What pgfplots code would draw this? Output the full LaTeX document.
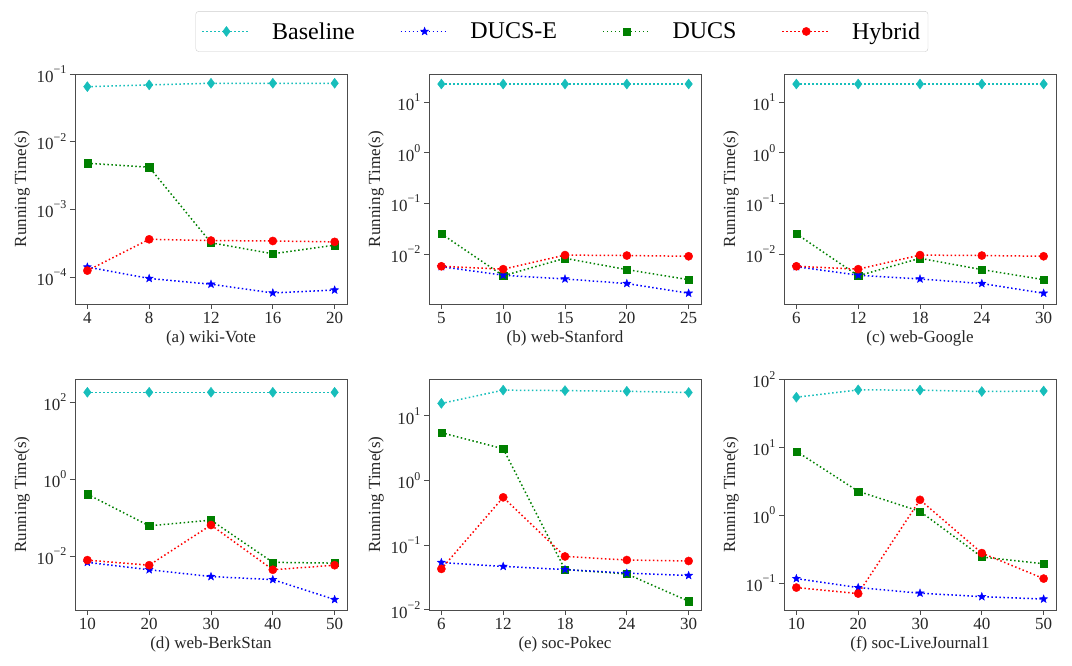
\documentclass[border=0pt]{standalone}
\usepackage{pgfplots}
\pgfplotsset{compat=1.18}
\usepackage{fontspec}
\setmainfont{Liberation Serif}
\definecolor{cbase}{RGB}{23,190,187}
\definecolor{cducse}{RGB}{0,0,255}
\definecolor{cducs}{RGB}{0,128,0}
\definecolor{chyb}{RGB}{255,0,0}
\newcommand{\tp}[1]{10\raisebox{0.52em}{\fontsize{12}{12}\selectfont #1}}
\pgfdeclareplotmark{fstar}{%
  \pgfpathmoveto{\pgfqpointpolar{90}{\pgfplotmarksize}}%
  \pgfpathlineto{\pgfqpointpolar{126}{0.42\pgfplotmarksize}}%
  \pgfpathlineto{\pgfqpointpolar{162}{\pgfplotmarksize}}%
  \pgfpathlineto{\pgfqpointpolar{198}{0.42\pgfplotmarksize}}%
  \pgfpathlineto{\pgfqpointpolar{234}{\pgfplotmarksize}}%
  \pgfpathlineto{\pgfqpointpolar{270}{0.42\pgfplotmarksize}}%
  \pgfpathlineto{\pgfqpointpolar{306}{\pgfplotmarksize}}%
  \pgfpathlineto{\pgfqpointpolar{342}{0.42\pgfplotmarksize}}%
  \pgfpathlineto{\pgfqpointpolar{18}{\pgfplotmarksize}}%
  \pgfpathlineto{\pgfqpointpolar{54}{0.42\pgfplotmarksize}}%
  \pgfpathclose
  \pgfusepathqfillstroke
}
\pgfplotsset{legend image code/.code={\draw[mark repeat=2,mark phase=2,#1] plot coordinates {(0pt,0pt) (24pt,0pt) (48pt,0pt)};}}
\pgfplotsset{
  myax/.style={
    scale only axis, width=272pt, height=230pt,
    yminorticks=false,
    tick align=outside, tick pos=left,
    major tick length=5pt,
    axis line style={black!70, line width=0.8pt},
    every tick/.style={black!70, line width=0.8pt},
    tick label style={font=\fontsize{17}{20}\selectfont, text=black!85},
    every axis label/.append style={font=\fontsize{17}{20}\selectfont, text=black!85},
    ylabel={Running Time(s)},
    /pgf/number format/assume math mode=true,
    anchor=south west,
  },
  serbase/.style={color=cbase, draw=cbase, line width=1.5pt, dash pattern=on 1.5pt off 2.5pt, mark=diamond*, mark size=5pt, mark options={solid, line width=0.4pt, draw=cbase, fill=cbase}},
  serducse/.style={color=cducse, draw=cducse, line width=1.5pt, dash pattern=on 1.5pt off 2.5pt, mark=fstar, mark size=4.2pt, mark options={solid, line width=0.4pt, draw=cducse, fill=cducse}},
  serducs/.style={color=cducs, draw=cducs, line width=1.5pt, dash pattern=on 1.5pt off 2.5pt, mark=square*, mark size=3.6pt, mark options={solid, line width=0.4pt, draw=cducs, fill=cducs}},
  serhyb/.style={color=chyb, draw=chyb, line width=1.5pt, dash pattern=on 1.5pt off 2.5pt, mark=*, mark size=4.1pt, mark options={solid, line width=0.4pt, draw=chyb, fill=chyb}},
}
\begin{document}
\begin{tikzpicture}
\path[use as bounding box] (0,0) rectangle (1072pt,665pt);
% (a)
\begin{semilogyaxis}[myax, at={(75pt,361pt)},
  xmin=3.2, xmax=20.8, xtick={4,8,12,16,20},
  ymin=3.98e-5, ymax=0.1, ytick={1e-4,1e-3,1e-2,1e-1},
  yticklabels={\tp{−4},\tp{−3},\tp{−2},\tp{−1}},
  xlabel={(a) wiki-Vote},
  legend columns=4,
  legend style={at={(1.790,1.185)}, anchor=center, draw=black!20, rounded corners=3pt,
    font=\fontsize{24}{27}\selectfont, inner xsep=6pt, inner ysep=9pt,
    /tikz/every even column/.append style={column sep=43pt},
    /tikz/every odd column/.append style={column sep=19pt}},
]
\addplot[serbase] coordinates {(4,0.065) (8,0.069) (12,0.073) (16,0.073) (20,0.073)};
\addlegendentry{Baseline}
\addplot[serducse] coordinates {(4,1.4e-4) (8,9.5e-5) (12,7.8e-5) (16,5.8e-5) (20,6.4e-5)};
\addlegendentry{DUCS-E}
\addplot[serducs] coordinates {(4,0.0048) (8,0.0042) (12,3.2e-4) (16,2.2e-4) (20,2.95e-4)};
\addlegendentry{DUCS}
\addplot[serhyb] coordinates {(4,1.24e-4) (8,3.6e-4) (12,3.45e-4) (16,3.4e-4) (20,3.3e-4)};
\addlegendentry{Hybrid}
\end{semilogyaxis}
% (b)
\begin{semilogyaxis}[myax, at={(429pt,361pt)},
  xmin=4, xmax=26, xtick={5,10,15,20,25},
  ymin=1.023e-3, ymax=36.3, ytick={1e-2,1e-1,1,10},
  yticklabels={\tp{−2},\tp{−1},\tp{0},\tp{1}},
  xlabel={(b) web-Stanford},
]
\addplot[serbase] coordinates {(5,23) (10,23) (15,23) (20,23) (25,23)};
\addplot[serducs] coordinates {(5,0.025) (10,0.0037) (15,0.0082) (20,0.0049) (25,0.0031)};
\addplot[serducse] coordinates {(5,0.0056) (10,0.0038) (15,0.0032) (20,0.0026) (25,0.00167)};
\addplot[serhyb] coordinates {(5,0.0057) (10,0.0050) (15,0.0095) (20,0.0093) (25,0.0090)};
\end{semilogyaxis}
% (c)
\begin{semilogyaxis}[myax, at={(784pt,361pt)},
  xmin=4.8, xmax=31.2, xtick={6,12,18,24,30},
  ymin=1.023e-3, ymax=36.3, ytick={1e-2,1e-1,1,10},
  yticklabels={\tp{−2},\tp{−1},\tp{0},\tp{1}},
  xlabel={(c) web-Google},
]
\addplot[serbase] coordinates {(6,23) (12,23) (18,23) (24,23) (30,23)};
\addplot[serducs] coordinates {(6,0.025) (12,0.0037) (18,0.0082) (24,0.0049) (30,0.0031)};
\addplot[serducse] coordinates {(6,0.0056) (12,0.0038) (18,0.0032) (24,0.0026) (30,0.00167)};
\addplot[serhyb] coordinates {(6,0.0057) (12,0.0050) (18,0.0095) (24,0.0093) (30,0.0090)};
\end{semilogyaxis}
% (d)
\begin{semilogyaxis}[myax, at={(75pt,55pt)}, height=231pt,
  xmin=8, xmax=52, xtick={10,20,30,40,50},
  ymin=4.07e-4, ymax=398, ytick={1e-2,1,100},
  yticklabels={\tp{−2},\tp{0},\tp{2}},
  xlabel={(d) web-BerkStan},
]
\addplot[serbase] coordinates {(10,180) (20,180) (30,180) (40,180) (50,180)};
\addplot[serducs] coordinates {(10,0.41) (20,0.062) (30,0.087) (40,0.0070) (50,0.0067)};
\addplot[serducse] coordinates {(10,0.0070) (20,0.0045) (30,0.0030) (40,0.0025) (50,0.00076)};
\addplot[serhyb] coordinates {(10,0.0080) (20,0.0059) (30,0.065) (40,0.0045) (50,0.0059)};
\end{semilogyaxis}
% (e)
\begin{semilogyaxis}[myax, at={(429pt,55pt)}, height=231pt,
  xmin=4.8, xmax=31.2, xtick={6,12,18,24,30},
  ymin=0.00995, ymax=37.2, ytick={1e-2,1e-1,1,10},
  yticklabels={\tp{−2},\tp{−1},\tp{0},\tp{1}},
  xlabel={(e) soc-Pokec},
]
\addplot[serbase] coordinates {(6,15.6) (12,25) (18,24.6) (24,24) (30,23)};
\addplot[serducs] coordinates {(6,5.5) (12,3.1) (18,0.042) (24,0.036) (30,0.0136)};
\addplot[serducse] coordinates {(6,0.054) (12,0.047) (18,0.042) (24,0.037) (30,0.034)};
\addplot[serhyb] coordinates {(6,0.043) (12,0.55) (18,0.067) (24,0.059) (30,0.057)};
\end{semilogyaxis}
% (f)
\begin{semilogyaxis}[myax, at={(784pt,55pt)}, height=231pt,
  xmin=8, xmax=52, xtick={10,20,30,40,50},
  ymin=0.0407, ymax=102, ytick={1e-1,1,10,100},
  yticklabels={\tp{−1},\tp{0},\tp{1},\tp{2}},
  xlabel={(f) soc-LiveJournal1},
]
\addplot[serbase] coordinates {(10,55) (20,70.5) (30,70) (40,66.7) (50,68)};
\addplot[serducs] coordinates {(10,8.8) (20,2.27) (30,1.15) (40,0.245) (50,0.195)};
\addplot[serducse] coordinates {(10,0.118) (20,0.087) (30,0.072) (40,0.064) (50,0.059)};
\addplot[serhyb] coordinates {(10,0.087) (20,0.071) (30,1.7) (40,0.28) (50,0.118)};
\end{semilogyaxis}
\end{tikzpicture}
\end{document}
